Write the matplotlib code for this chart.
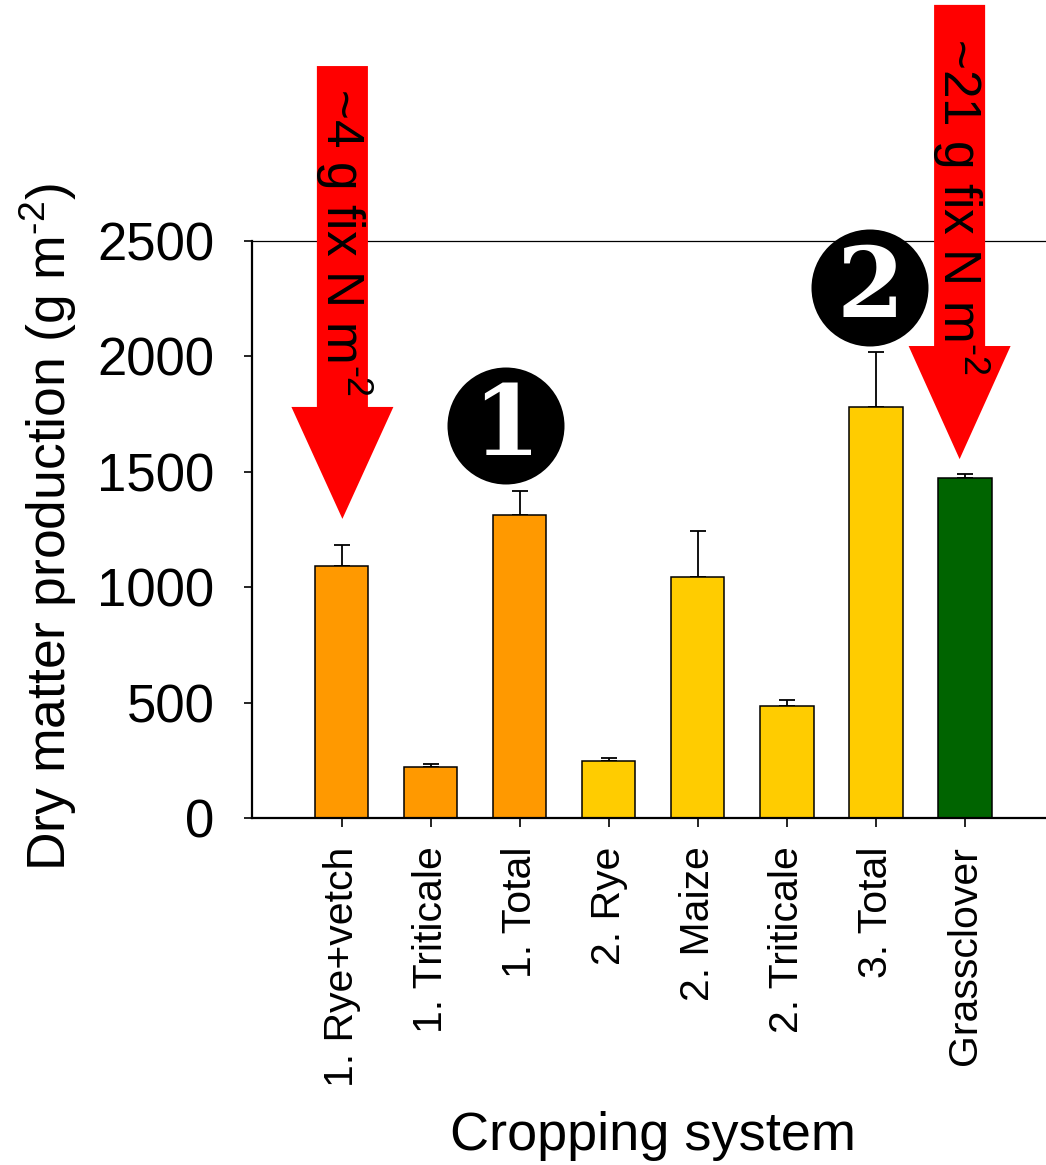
import matplotlib
matplotlib.use("Agg")
import matplotlib.pyplot as plt
from matplotlib.patches import Polygon, Circle

plt.rcParams['font.family'] = ['Liberation Sans', 'DejaVu Sans']
plt.rcParams['mathtext.fontset'] = 'custom'
plt.rcParams['mathtext.rm'] = 'Liberation Sans'
plt.rcParams['mathtext.it'] = 'Liberation Sans:italic'

# Dry matter production per cropping system (g m-2), with upper error bars
categories = ["1. Rye+vetch", "1. Triticale", "1. Total", "2. Rye", "2. Maize",
              "2. Triticale", "3. Total", "Grassclover"]
values = [1092, 221, 1313, 247, 1044, 485, 1781, 1473]
errors = [91, 14, 104, 13, 199, 26, 238, 17]
colors = ["#FF9900", "#FF9900", "#FF9900", "#FFCC00", "#FFCC00", "#FFCC00",
          "#FFCC00", "#006400"]
yticks = [0, 500, 1000, 1500, 2000, 2500]

W, H = 1046, 1165
fig = plt.figure(figsize=(W / 100, H / 100), dpi=100)
ax = fig.add_axes([252 / W, 1 - 818 / H, (W - 252) / W, (818 - 241) / H])

x = list(range(len(categories)))
ax.bar(x, values, width=0.6, color=colors, edgecolor="black", linewidth=1.1, zorder=2)
ax.errorbar(x, values, yerr=[[0] * len(errors), errors], fmt="none", ecolor="black",
            elinewidth=1.3, capsize=5.8, capthick=1.3, zorder=1)

ax.set_xlim(-1.005, 7.91)
ax.set_ylim(0, 2500)
ax.set_yticks(yticks)
ax.set_yticklabels([str(t) for t in yticks], fontsize=38)
ax.set_xticks(x)
ax.set_xticklabels(categories, rotation=90, fontsize=29.5)
ax.tick_params(axis="y", direction="out", length=6, width=1.2, pad=21)
ax.tick_params(axis="x", direction="out", length=6.5, width=1.2, pad=14)
ax.spines["right"].set_visible(False)
ax.spines["left"].set_linewidth(1.6)
ax.spines["bottom"].set_linewidth(1.6)
ax.spines["top"].set_linewidth(0.9)

fig.text(48 / W, 1 - 527 / H, r"Dry matter production (g m$^{\text{-2}}$)",
         rotation=90, ha="center", va="center", fontsize=38.5)
fig.text(653 / W, 1 - 1136 / H, "Cropping system", ha="center", va="center", fontsize=39)


# Red downward arrows marking nitrogen fixation
def down_arrow(xc, y_top, y_head, y_tip, shaft_w, head_w):
    pts = [(xc - shaft_w / 2, y_top), (xc + shaft_w / 2, y_top),
           (xc + shaft_w / 2, y_head), (xc + head_w / 2, y_head),
           (xc, y_tip), (xc - head_w / 2, y_head), (xc - shaft_w / 2, y_head)]
    ax.add_patch(Polygon(pts, closed=True, facecolor="#FF0000", edgecolor="none",
                         clip_on=False, zorder=3))


down_arrow(0.01, 3258, 1781, 1296, 0.573, 1.145)
down_arrow(6.94, 3523, 2045, 1555, 0.573, 1.145)
ax.text(0.02, 2495, r"~4 g fix N m$^{\text{-2}}$", rotation=-90, ha="center",
        va="center", fontsize=37, zorder=4, clip_on=False)
ax.text(6.95, 2650, r"~21 g fix N m$^{\text{-2}}$", rotation=-90, ha="center",
        va="center", fontsize=37, zorder=4, clip_on=False)

# Numbered black discs
for label, cx, cy in [("1", 506, 426), ("2", 870, 288)]:
    fig.add_artist(Circle((cx / 100, (H - cy) / 100), 0.585,
                          transform=fig.dpi_scale_trans, facecolor="black",
                          edgecolor="none", zorder=5))
    fig.text(cx / W, 1 - (cy + 2) / H, label, ha="center", va="center", color="white",
             fontsize=70, fontweight="bold", family="DejaVu Serif", zorder=6)

fig.savefig("out.png", dpi=100)
